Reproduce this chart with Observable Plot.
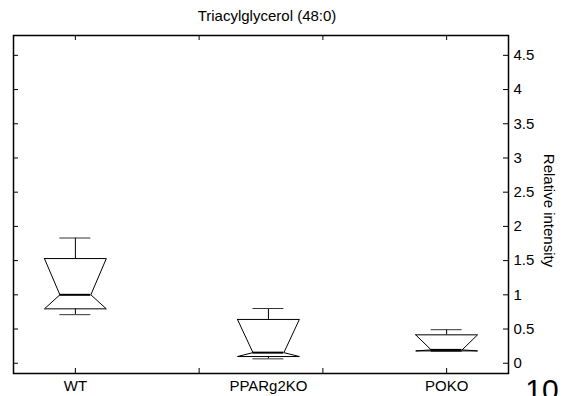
<!DOCTYPE html>
<html>
<head>
<meta charset="utf-8">
<script src="https://cdn.jsdelivr.net/npm/d3@7"></script>
<script src="https://cdn.jsdelivr.net/npm/@observablehq/plot@0.6"></script>
<style>
  html, body { margin: 0; padding: 0; background: #fff; }
  #chart svg { display: block; }
</style>
</head>
<body>
<div id="chart"></div>
<script>
// ---- data ----
const groups = ["WT", "PPARg2KO", "POKO"];
const positions = [1, 2.56, 4];
const whiskerHigh = [1.83, 0.80, 0.49];
const upperQuartile = [1.53, 0.64, 0.415];
const medians = [1.00, 0.155, 0.195];
const lowerQuartile = [0.795, 0.098, 0.18];
const whiskerLow = [0.71, 0.064, 0.175];
const yTicks = [0, 0.5, 1, 1.5, 2, 2.5, 3, 3.5, 4, 4.5];
const xTicks = [1, 2, 3, 4];
const title = "Triacylglycerol (48:0)";
const yLabel = "Relative intensity";
const exponentLabel = "10";

// ---- layout ----
const W = 571, H = 396;
const mL = 13, mR = 63, mT = 35, mB = 23;
const plotW = W - mL - mR, plotH = H - mT - mB;
const boxHalf = 0.25, notchHalf = 0.125;
const tickLen = 5;

const boxes = groups.map((g, i) => ({
  g, x: positions[i], hi: whiskerHigh[i], q3: upperQuartile[i],
  med: medians[i], q1: lowerQuartile[i], lo: whiskerLow[i]
}));

const poly = boxes.flatMap(b => [
  {g: b.g, x: b.x - boxHalf, y: b.q3},
  {g: b.g, x: b.x + boxHalf, y: b.q3},
  {g: b.g, x: b.x + notchHalf, y: b.med},
  {g: b.g, x: b.x + boxHalf, y: b.q1},
  {g: b.g, x: b.x - boxHalf, y: b.q1},
  {g: b.g, x: b.x - notchHalf, y: b.med},
  {g: b.g, x: b.x - boxHalf, y: b.q3}
]);

const chart = Plot.plot({
  width: W, height: H,
  marginLeft: mL, marginRight: mR, marginTop: mT, marginBottom: mB,
  style: {fontFamily: "'Liberation Sans', Arial, sans-serif", fontSize: "15px", background: "#fff", color: "#000"},
  x: {type: "linear", domain: [0.5, 4.5], axis: null},
  y: {type: "linear", domain: [-0.15, 4.79], axis: null},
  marks: [
    // ticks (inward) on all four sides
    Plot.tickY(yTicks, {y: d => d, insetLeft: plotW - tickLen, stroke: "#000", strokeWidth: 1}),
    Plot.tickY(yTicks, {y: d => d, insetRight: plotW - tickLen, stroke: "#000", strokeWidth: 1}),
    Plot.tickX(xTicks, {x: d => d, insetTop: plotH - tickLen, stroke: "#000", strokeWidth: 1}),
    Plot.tickX(xTicks, {x: d => d, insetBottom: plotH - tickLen, stroke: "#000", strokeWidth: 1}),
    Plot.frame({stroke: "#000", strokeWidth: 1.5}),
    Plot.axisY({anchor: "right", ticks: yTicks, tickSize: 0, tickPadding: 5, tickFormat: d => String(d), label: null, fontSize: 15}),
    // whiskers
    Plot.ruleX(boxes, {x: "x", y1: "q3", y2: "hi", stroke: "#000", strokeWidth: 1}),
    Plot.ruleX(boxes, {x: "x", y1: "q1", y2: "lo", stroke: "#000", strokeWidth: 1}),
    Plot.ruleY(boxes, {y: "hi", x1: d => d.x - notchHalf, x2: d => d.x + notchHalf, stroke: "#333", strokeWidth: 1}),
    Plot.ruleY(boxes, {y: "lo", x1: d => d.x - notchHalf, x2: d => d.x + notchHalf, stroke: "#333", strokeWidth: 1}),
    // notched boxes
    Plot.line(poly, {x: "x", y: "y", z: "g", stroke: "#000", strokeWidth: 1}),
    Plot.ruleY(boxes, {y: "med", x1: d => d.x - notchHalf, x2: d => d.x + notchHalf, stroke: "#000", strokeWidth: 2}),
    // category labels
    Plot.text(boxes, {x: "x", text: "g", frameAnchor: "bottom", lineAnchor: "top", dy: 7, fontSize: 15}),
    // title
    Plot.text([title], {text: d => d, frameAnchor: "top", lineAnchor: "top", dx: 6, dy: -25, fontSize: 15}),
    // y label
    Plot.text([yLabel], {text: d => d, frameAnchor: "right", textAnchor: "middle", lineAnchor: "middle", rotate: 90, dx: 40, dy: 6, fontSize: 15}),
    // exponent (clipped at bottom, as in the reference)
    Plot.text([exponentLabel], {text: d => d, frameAnchor: "bottom-right", textAnchor: "middle", lineAnchor: "top", dx: 33.5, dy: 5, fontSize: 30})
  ]
});
document.getElementById("chart").appendChild(chart);
</script>
</body>
</html>
